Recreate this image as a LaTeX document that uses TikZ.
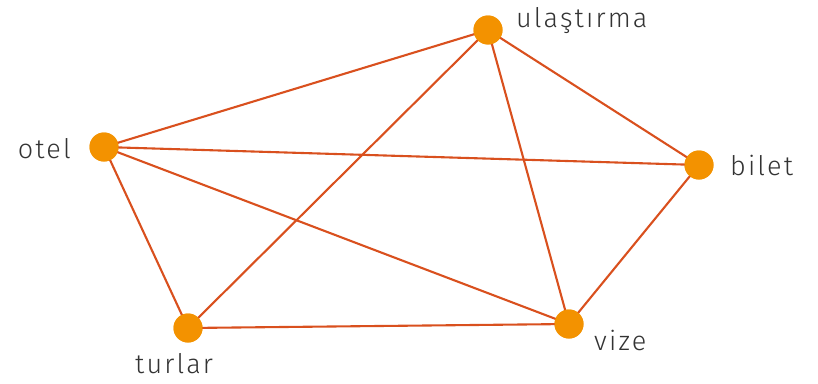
\documentclass[tikz,border=0pt]{standalone}
\usepackage{fontspec}
\newfontfamily\labfont{Fira Sans Light}[LetterSpace=8]
\definecolor{edgec}{HTML}{D9501E}
\definecolor{nodec}{HTML}{F39200}
\definecolor{textc}{HTML}{333333}
\begin{document}
\begin{tikzpicture}[x=1pt,y=-1pt,
  dot/.style={circle,fill=nodec,minimum size=29pt,inner sep=0pt},
  lab/.style={font=\labfont\fontsize{27}{32}\selectfont,text=textc,inner sep=0pt},
  edge/.style={draw=edgec,line width=2.1pt}]
\useasboundingbox (0,0) rectangle (818,383);
\node[dot] (u) at (488,30) {};
\node[dot] (o) at (104,147) {};
\node[dot] (b) at (699,165) {};
\node[dot] (t) at (188,328) {};
\node[dot] (v) at (569,324) {};
\node[lab,anchor=base west] (lu) at (516,27) {ulaştırma};
\node[lab,anchor=base east] (lo) at (71,158) {otel};
\node[lab,anchor=base west] (lb) at (730,175) {bilet};
\node[lab,anchor=base west] (lt) at (135,373) {turlar};
\node[lab,anchor=base west] (lv) at (594,350) {vize};
\draw[edge] (u.center) -- (o.center);
\draw[edge] (u.center) -- (t.center);
\draw[edge] (u.center) -- (v.center);
\draw[edge] (u.center) -- (b.center);
\draw[edge] (o.center) -- (b.center);
\draw[edge] (o.center) -- (v.center);
\draw[edge] (o.center) -- (t.center);
\draw[edge] (t.center) -- (v.center);
\draw[edge] (v.center) -- (b.center);
\node[dot] at (u) {};
\node[dot] at (o) {};
\node[dot] at (b) {};
\node[dot] at (t) {};
\node[dot] at (v) {};
\end{tikzpicture}
\end{document}
